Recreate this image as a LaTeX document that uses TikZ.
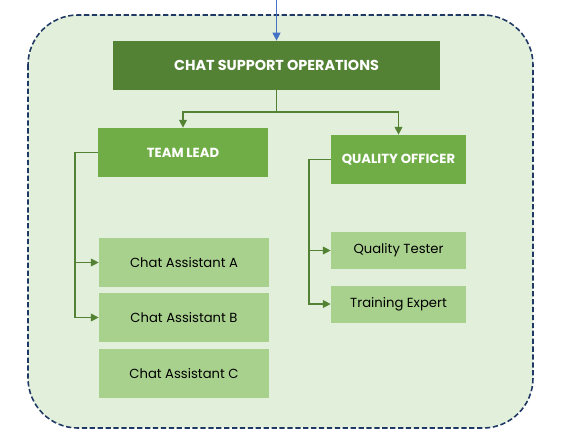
\documentclass[tikz,border=0pt]{standalone}
\usepackage{fontspec}
\setmainfont{Poppins}
\usetikzlibrary{arrows.meta}
\definecolor{bgGreen}{HTML}{E2EFDA}
\definecolor{frameBlue}{HTML}{1F3864}
\definecolor{topGreen}{HTML}{548235}
\definecolor{midGreen}{HTML}{70AD47}
\definecolor{lowGreen}{HTML}{A9D18E}
\definecolor{linkGreen}{HTML}{548235}
\definecolor{inBlue}{HTML}{4472C4}
\begin{document}
\begin{tikzpicture}[x=0.02cm,y=-0.02cm,
    head node/.style={fill=topGreen,text=white,font=\bfseries\fontsize{8.2}{10}\selectfont,minimum width=6.54cm,minimum height=0.98cm,inner sep=0pt},
    lead node/.style={fill=midGreen,text=white,font=\bfseries\fontsize{7.5}{9}\selectfont,minimum height=0.98cm,inner sep=0pt},
    staff node/.style={fill=lowGreen,text=black,font=\fontsize{7.5}{9}\selectfont,inner sep=0pt},
    link/.style={linkGreen,line width=0.6pt,-{Triangle[length=4.5pt,width=4.5pt]}}]
        \useasboundingbox (0,0) rectangle (563,443);
        \draw[frameBlue,fill=bgGreen,dashed,line width=0.9pt,dash pattern=on 3pt off 1.5pt,rounded corners=1cm] (28,15) rectangle (533,428);

        \node[head node] at (276.5, 65.5) (ops) {CHAT SUPPORT OPERATIONS};
        \node[lead node,minimum width=3.4cm] at (183, 152.5) (lead) {TEAM LEAD};
        \node[lead node,minimum width=2.7cm] at (398.5, 159.5) (qo) {QUALITY OFFICER};

        \node[staff node,minimum width=3.4cm,minimum height=0.98cm] at (184, 262.5) (ca) {Chat Assistant A};
        \node[staff node,minimum width=3.4cm,minimum height=0.98cm] at (184, 317.5) (cb) {Chat Assistant B};
        \node[staff node,minimum width=3.4cm,minimum height=0.98cm] at (184, 373.5) (cc) {Chat Assistant C};
        \node[staff node,minimum width=2.7cm,minimum height=0.74cm] at (398.5, 250.5) (qt) {Quality Tester};
        \node[staff node,minimum width=2.7cm,minimum height=0.74cm] at (398.5, 304) (te) {Training Expert};

        \coordinate (in) at (276.5, 0);
        \coordinate (split) at (276.5, 112);
        \coordinate (lbus) at (75, 152.5);
        \coordinate (rbus) at (309, 159.5);

        \draw[link,inBlue] (in) -- (ops);
        \draw[link] (ops) -- (split) -| (lead.north);
        \draw[link] (split) -| (qo.north);
        \draw[link] (lead.west) -- (lbus) |- (ca.west);
        \draw[link] (lbus) |- (cb.west);
        \draw[link] (qo.west) -- (rbus) |- (qt.west);
        \draw[link] (rbus) |- (te.west);
    \end{tikzpicture}
\end{document}
